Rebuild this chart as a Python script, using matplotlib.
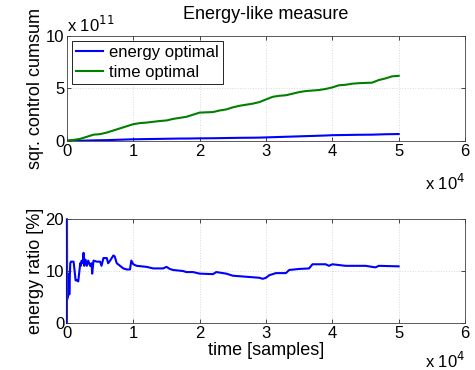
import numpy as np
import matplotlib.pyplot as plt

plt.rcParams['font.family'] = ['Liberation Sans', 'DejaVu Sans']
plt.rcParams['font.size'] = 12

# time axis in units of 1e4 samples, cumsum in units of 1e11
t_cum = [0, 0.1, 0.2, 0.3, 0.4, 0.5, 0.6, 0.7, 0.8, 0.9, 1.0, 1.1, 1.2, 1.4, 1.5,
         1.6, 1.7, 1.8, 1.9, 2.0, 2.2, 2.3, 2.4, 2.5, 2.6, 2.8, 2.9, 3.0, 3.1,
         3.2, 3.3, 3.4, 3.5, 3.6, 3.7, 3.8, 3.9, 4.0, 4.1, 4.2, 4.3, 4.4, 4.6,
         4.7, 4.8, 4.9, 5.0]
time_opt = [0.05, 0.1, 0.2, 0.4, 0.6, 0.65, 0.8, 1.0, 1.2, 1.4, 1.6, 1.7, 1.75, 1.9, 1.95,
            2.1, 2.2, 2.3, 2.5, 2.7, 2.75, 2.9, 3.0, 3.2, 3.35, 3.55, 3.7, 3.95, 4.2,
            4.3, 4.35, 4.5, 4.65, 4.75, 4.8, 4.85, 4.95, 5.1, 5.3, 5.35, 5.45, 5.5, 5.55,
            5.8, 5.95, 6.15, 6.2]
energy_opt = [0.0, 0.01, 0.02, 0.04, 0.06, 0.07, 0.08, 0.1, 0.12, 0.14, 0.16, 0.17, 0.18, 0.2, 0.21,
              0.22, 0.23, 0.23, 0.24, 0.25, 0.26, 0.27, 0.28, 0.29, 0.3, 0.31, 0.32, 0.34, 0.36,
              0.38, 0.4, 0.42, 0.44, 0.46, 0.48, 0.5, 0.52, 0.55, 0.56, 0.57, 0.58, 0.59, 0.6,
              0.62, 0.64, 0.65, 0.66]

t_ratio = [0.0, 0.0, 0.003, 0.01, 0.015, 0.02, 0.025, 0.03, 0.035, 0.04, 0.05, 0.06, 0.07,
           0.1, 0.13, 0.15, 0.17, 0.2, 0.21, 0.22, 0.24, 0.25, 0.26, 0.28, 0.3, 0.32,
           0.35, 0.37, 0.38, 0.4, 0.45, 0.5, 0.52, 0.55, 0.6, 0.62, 0.65, 0.7, 0.72,
           0.75, 0.8, 0.85, 0.9, 0.95, 0.97, 1.0, 1.05, 1.2, 1.3, 1.45, 1.5, 1.55,
           1.6, 1.75, 1.8, 1.9, 2.0, 2.2, 2.25, 2.4, 2.5, 2.6, 2.7, 2.8, 2.9, 2.95,
           3.0, 3.05, 3.15, 3.3, 3.35, 3.5, 3.65, 3.7, 3.9, 3.95, 4.0, 4.2, 4.5, 4.6,
           4.65, 4.7, 5.0]
ratio = [0.0, 20.0, 4.5, 9.5, 5.0, 8.5, 5.5, 9.0, 5.5, 8.0, 11.5, 11.8, 11.8,
         11.8, 8.2, 8.2, 8.0, 11.5, 11.0, 12.0, 11.5, 13.5, 11.0, 12.2, 11.0, 12.0,
         11.0, 11.5, 9.5, 12.0, 11.8, 11.8, 11.0, 12.5, 12.5, 11.5, 12.0, 13.0, 12.8,
         11.5, 11.0, 10.5, 10.3, 10.3, 12.0, 11.3, 11.0, 10.8, 10.5, 10.5, 10.8, 10.4,
         10.2, 10.0, 9.8, 9.8, 9.5, 9.4, 9.8, 9.5, 9.1, 9.0, 8.9, 8.8, 8.7, 8.5,
         8.7, 9.2, 9.6, 9.6, 10.2, 10.4, 10.5, 11.3, 11.3, 11.0, 11.3, 11.0, 11.0, 10.8,
         10.7, 11.0, 10.9]

fig = plt.figure(figsize=(4.75, 3.7), dpi=100)
ax1 = fig.add_axes([0.141, 0.619, 0.838, 0.284])
ax2 = fig.add_axes([0.141, 0.127, 0.838, 0.281])

ax1.plot(t_cum, energy_opt, color='#0000ff', lw=1.5, label='energy optimal')
ax1.plot(t_cum, time_opt, color='#008000', lw=1.5, label='time optimal')
ax1.set_xlim(0, 6)
ax1.set_ylim(0, 10)
ax1.set_yticks([0, 5, 10])
ax1.set_title('Energy-like measure', fontsize=13, pad=12)
ax1.set_ylabel('sqr. control cumsum', fontsize=13, labelpad=1)
leg = ax1.legend(loc='upper left', fancybox=False, framealpha=1, edgecolor='black',
                 handlelength=1.6, borderaxespad=0.3, labelspacing=0.3, borderpad=0.25,
                 handletextpad=0.4)
leg.get_frame().set_linewidth(0.6)
ax1.text(0.0, 1.04, r'x 10$^{11}$', transform=ax1.transAxes, ha='left', va='baseline')
ax1.text(1.0, -0.3, r'x 10$^{4}$', transform=ax1.transAxes, ha='right', va='top')

ax2.plot(t_ratio, ratio, color='#0000ff', lw=1.5, clip_on=False)
ax2.set_xlim(0, 6)
ax2.set_ylim(0, 20)
ax2.set_yticks([0, 10, 20])
ax2.set_xlabel('time [samples]', fontsize=13, labelpad=1)
ax2.set_ylabel('energy ratio [%]', fontsize=13, labelpad=1)
ax2.text(1.0, -0.27, r'x 10$^{4}$', transform=ax2.transAxes, ha='right', va='top')

for ax in (ax1, ax2):
    ax.set_xticks([0, 1, 2, 3, 4, 5, 6])
    ax.grid(True, color='#d8d8d8', linestyle=':', linewidth=0.7)
    ax.tick_params(direction='in', top=True, right=True, labelsize=12, length=3, width=0.5, pad=2)
    for s in ax.spines.values():
        s.set_color('#404040')
        s.set_linewidth(0.6)

fig.savefig('out.png', dpi=100)
